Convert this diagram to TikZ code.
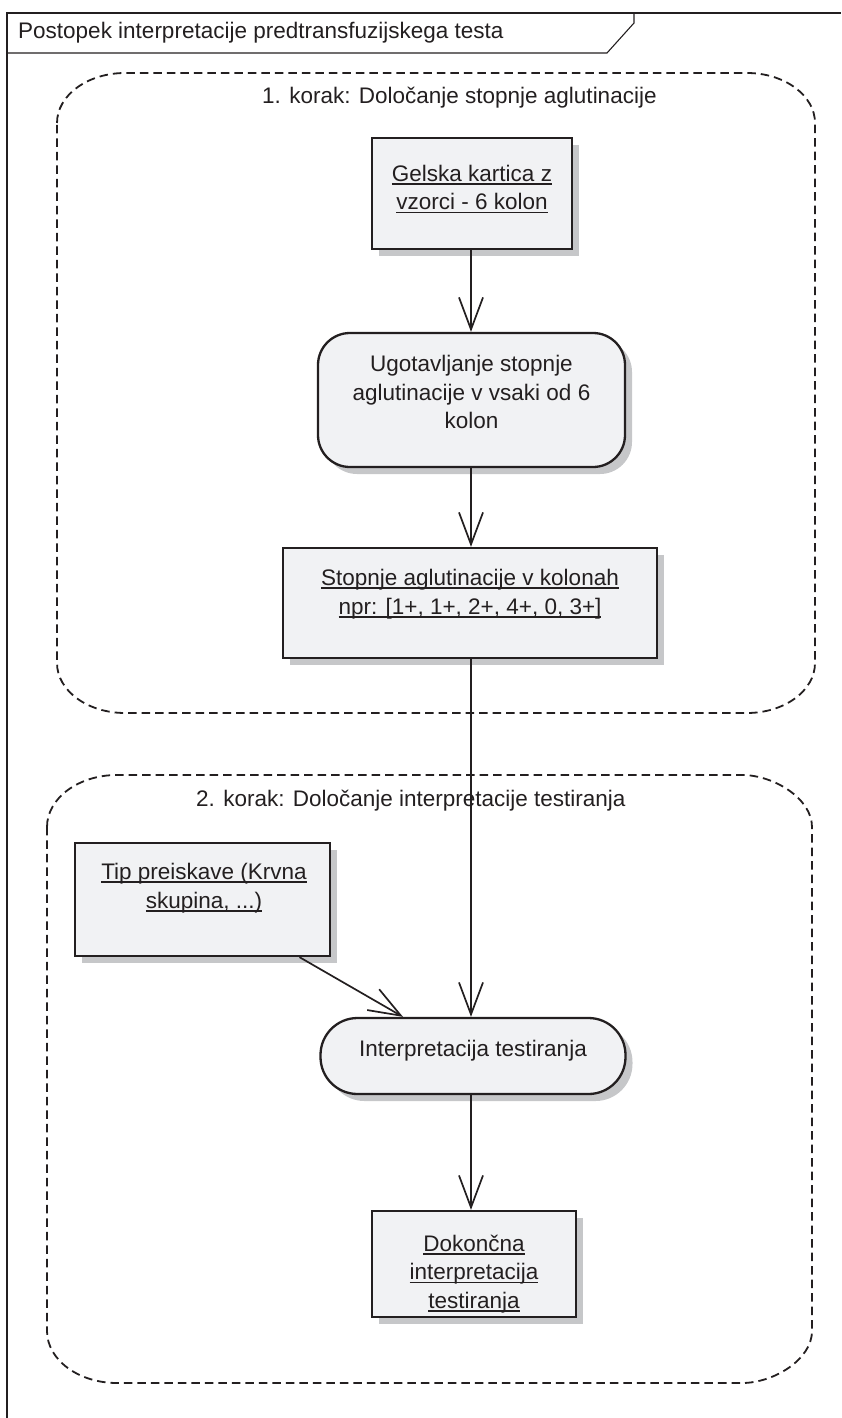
\documentclass[tikz,border=0pt]{standalone}
\usepackage{fontspec}
\setmainfont{Liberation Sans}
\usetikzlibrary{arrows.meta,calc,shadows}
\definecolor{ink}{HTML}{231F20}
\definecolor{boxfill}{HTML}{F1F2F4}
\definecolor{shade}{HTML}{C6C7C9}
% underline at a fixed depth below the baseline
\newcommand\undl[1]{\setbox0\hbox{#1}\rlap{\rule[-3.6pt]{\wd0}{1.7pt}}\box0}
\tikzset{
  frameline/.style={draw=ink, line width=1.1pt},
  region/.style={draw=ink, line width=1.8pt, dash pattern=on 8.5pt off 5pt},
  objbox/.style={rectangle, draw=ink, fill=boxfill, line width=2.3pt, inner sep=0pt,
    drop shadow={shadow xshift=7pt, shadow yshift=-7pt, fill=shade, opacity=1}},
  actbox/.style={objbox, rounded corners=32pt},
  lbl/.style={font=\fontsize{22.5}{28.5}\selectfont, text=ink, align=center, inner sep=0pt},
  flow/.style={draw=ink, line width=1.7pt,
    -{Straight Barb[length=32pt, width=24pt, line width=1.7pt]}}
}
\begin{document}
\begin{tikzpicture}[x=1pt, y=-1pt]
\useasboundingbox (0,0) rectangle (841,1418);

% diagram frame with its name tab
\draw[frameline] (7,1418) -- (7,13) -- (841,13);
\draw[frameline] (7,53) -- (607,53) -- (634,23) -- (634,13);
\node[lbl, anchor=west] (frametitle) at (18,33) {Postopek interpretacije predtransfuzijskega testa};

% step 1 region
\draw[region] (57,123) .. controls (57,95.4) and (87.5,73) .. (125,73) -- (747,73)
  .. controls (784.5,73) and (815,95.4) .. (815,123) -- (815,663)
  .. controls (815,690.6) and (784.5,713) .. (747,713) -- (125,713)
  .. controls (87.5,713) and (57,690.6) .. (57,663) -- cycle;
\node[lbl, anchor=west] (step1) at (262,98) {1. korak: Določanje stopnje aglutinacije};

% step 2 region
\draw[region] (47,827) .. controls (47,798.3) and (78.4,775) .. (117,775) -- (742,775)
  .. controls (773.4,775) and (812,798.3) .. (812,827) -- (812,1331)
  .. controls (812,1359.7) and (773.4,1383) .. (742,1383) -- (117,1383)
  .. controls (78.4,1383) and (47,1359.7) .. (47,1331) -- cycle;
\node[lbl, anchor=west] (step2) at (196,801) {2. korak: Določanje interpretacije testiranja};

% nodes
\node[objbox, minimum width=200pt, minimum height=111pt] (gel) at (472,193.5) {};
\node[lbl] (geltext) at (472,189) {\undl{Gelska kartica z}\\\undl{vzorci - 6 kolon}};

\node[actbox, minimum width=307pt, minimum height=134pt] (ugo) at (471.5,400) {};
\node[lbl] (ugotext) at (471.5,392) {Ugotavljanje stopnje\\aglutinacije v vsaki od 6\\kolon};

\node[objbox, minimum width=374pt, minimum height=110pt] (stop) at (470,603) {};
\node[lbl] (stoptext) at (470,594) {\undl{Stopnje aglutinacije v kolonah}\\\undl{npr: [1+, 1+, 2+, 4+, 0, 3+]}};

\node[objbox, minimum width=255pt, minimum height=113pt] (tip) at (202.5,899.5) {};
\node[lbl] (tiptext) at (204,888) {\undl{Tip preiskave (Krvna}\\\undl{skupina, ...)}};

\node[actbox, rounded corners=37pt, minimum width=305pt, minimum height=76pt] (interp) at (473,1056) {};
\node[lbl] (interptext) at (473,1051) {Interpretacija testiranja};

\node[objbox, minimum width=204pt, minimum height=106pt] (dok) at (474,1264) {};
\node[lbl] (doktext) at (474,1274) {\undl{Dokončna}\\\undl{interpretacija}\\\undl{testiranja}};

% control flow
\draw[flow] (gel.south -| 471,0) -- (ugo.north -| 471,0);
\draw[flow] (ugo.south -| 471,0) -- (stop.north -| 471,0);
\draw[flow] (stop.south -| 471,0) -- (interp.north -| 471,0);
\draw[flow] ([xshift=97pt]tip.south) -- ([xshift=-70pt]interp.north);
\draw[flow] (interp.south -| 471,0) -- (dok.north -| 471,0);
\end{tikzpicture}
\end{document}
